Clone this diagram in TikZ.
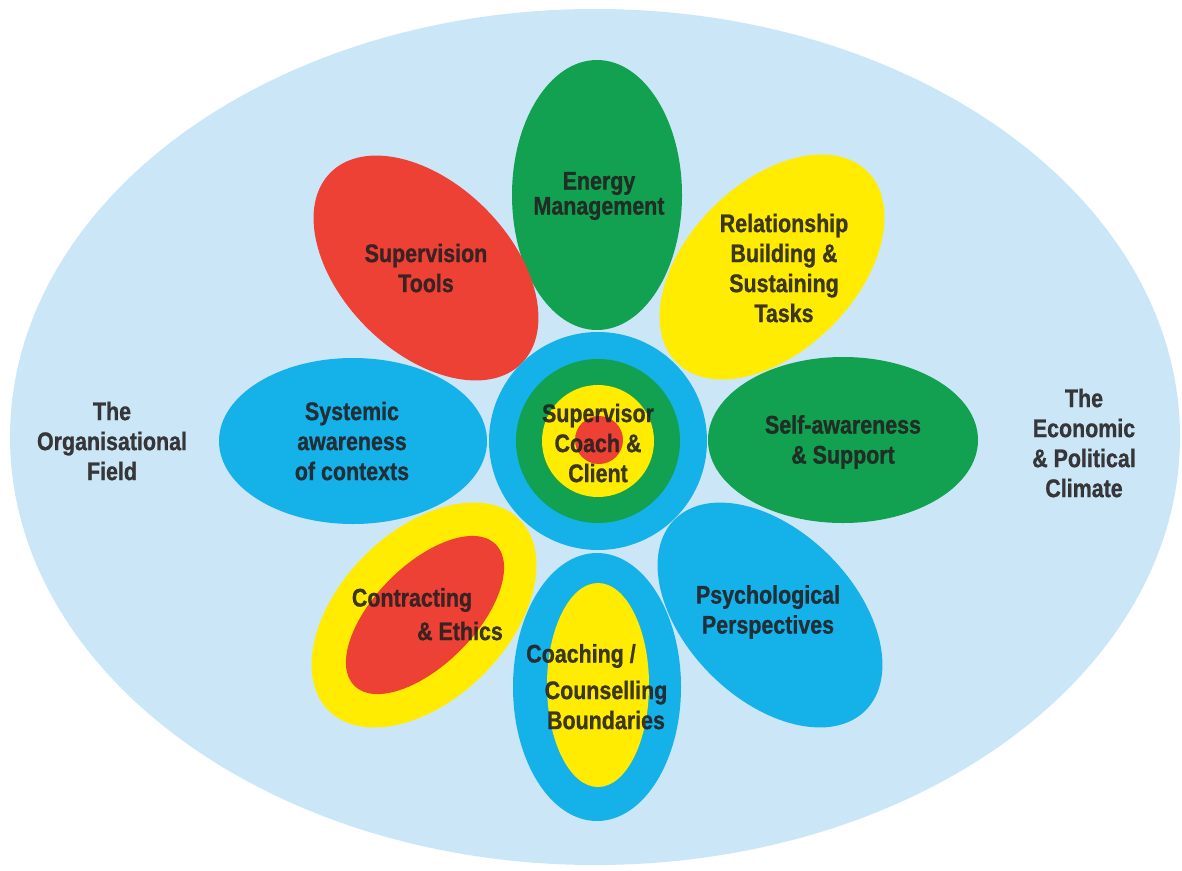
\documentclass[tikz,border=0pt]{standalone}
\usepackage{fontspec}
\setmainfont{Liberation Sans}[FakeStretch=0.84, BoldFeatures={FakeBold=0.8}]
\definecolor{sky}{HTML}{CBE7F7}
\definecolor{petalblue}{HTML}{15B2EA}
\definecolor{petalgreen}{HTML}{12A150}
\definecolor{petalred}{HTML}{EE4136}
\definecolor{petalyellow}{HTML}{FFEC00}
\definecolor{ink}{HTML}{231F20}
\tikzset{
  lbl/.style={font=\bfseries\fontsize{25.5}{30}\selectfont, text=ink, text opacity=0.88,
              align=center, inner sep=0pt},
  tight/.style={font=\bfseries\fontsize{25.5}{25}\selectfont},
}
\begin{document}
\begin{tikzpicture}[x=1pt,y=-1pt]
\useasboundingbox (0,0) rectangle (1182,870);
\fill[white] (0,0) rectangle (1182,870);
% surrounding field
\fill[sky] (595,437) ellipse [x radius=585pt, y radius=428pt];

% petals
\fill[petalgreen] (597,195) ellipse [x radius=85pt, y radius=135pt];
\fill[petalred, rotate around={45:(426,268)}] (426,268) ellipse [x radius=84pt, y radius=135pt];
\fill[petalyellow, rotate around={-45:(772,267)}] (772,267) ellipse [x radius=84pt, y radius=135pt];
\fill[petalblue] (353,441) ellipse [x radius=134pt, y radius=83pt];
\fill[petalgreen] (843,440) ellipse [x radius=135pt, y radius=83pt];
\fill[petalblue, rotate around={45:(770,615)}] (770,615) ellipse [x radius=84pt, y radius=135pt];
\fill[petalyellow, rotate around={-45:(424,615)}] (424,615) ellipse [x radius=84pt, y radius=135pt];
\fill[petalred, rotate around={-45:(425,615)}] (425,615) ellipse [x radius=50pt, y radius=100pt];
\fill[petalblue] (597,687) ellipse [x radius=84pt, y radius=134pt];
\fill[petalyellow] (598,685) ellipse [x radius=51pt, y radius=102pt];

% centre rings
\fill[petalblue] (598,441) circle [radius=109pt];
\fill[petalgreen] (598,441) circle [radius=82pt];
\fill[petalyellow] (598,441) circle [radius=56pt];
\fill[petalred] (599,440) circle [radius=24pt];

% labels
\node[lbl, tight] (energy) at (599,196) {Energy\\Management};
\node[lbl] (tools) at (426,268) {Supervision\\Tools};
\node[lbl] (relation) at (784,268) {Relationship\\Building \&\\Sustaining\\Tasks};
\node[lbl] (systemic) at (352,441) {Systemic\\awareness\\of contexts};
\node[lbl] (self) at (843,442) {Self-awareness\\\& Support};
\node[lbl] (orgfield) at (112,441) {The\\Organisational\\Field};
\node[lbl] (climate) at (1084,443) {The\\Economic\\\& Political\\Climate};
\node[lbl] (core) at (598,443) {Supervisor\\Coach \&\\Client};
\node[lbl] (contract) at (412,600) {Contracting};
\node[lbl] (ethics) at (460,631) {\& Ethics};
\node[lbl] (coaching) at (581,656) {Coaching /};
\node[lbl] (bounds) at (606,705) {Counselling\\Boundaries};
\node[lbl] (psych) at (768,612) {Psychological\\Perspectives};
\end{tikzpicture}
\end{document}
